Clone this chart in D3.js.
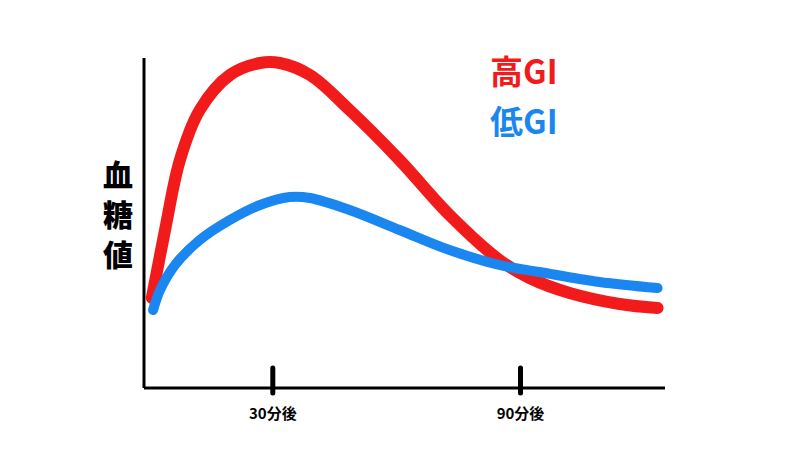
<!DOCTYPE html>
<html><head><meta charset="utf-8">
<script src="https://cdn.jsdelivr.net/npm/d3@7"></script>
<style>body{margin:0;background:#fff;}</style>
</head><body>
<script>
// time in minutes, glucose in arbitrary units
var highTimes = [0.7, 3.9, 7.5, 12.3, 19.6, 26.9, 31.7, 39, 48.6, 60.7, 72.8, 84.9, 92.2, 101.9, 114, 123.2];
var highValues = [90, 158, 228, 278, 313, 325, 325, 313, 278, 228, 173, 128, 110, 95, 84, 80];
var lowTimes = [1, 2.7, 6.3, 12.3, 19.6, 26.9, 34.1, 39, 48.6, 60.7, 72.8, 84.9, 94.6, 109.1, 123.2];
var lowValues = [78, 98, 123, 148, 168, 183, 191, 190, 178, 158, 138, 123, 116, 106, 100];
var tickValues = [30, 90];
var tickLabels = ["30分後", "90分後"];
var yLabel = ["血", "糖", "値"];
var legendNames = ["高GI", "低GI"];
var colors = ["#f21b1b", "#1a86f0"];

var width = 800, height = 450;
var svg = d3.select("body").append("svg")
    .attr("width", width).attr("height", height);

var x = d3.scaleLinear().domain([-1.2, 125]).range([144, 665]);
var y = d3.scaleLinear().domain([0, 330]).range([388, 58]);

var font = "'Noto Sans CJK JP', sans-serif";

// axes
svg.append("line").attr("x1", x(-1.2)).attr("x2", x(-1.2))
    .attr("y1", y(330)).attr("y2", y(0))
    .attr("stroke", "#000").attr("stroke-width", 3);
svg.append("line").attr("x1", x(-1.2)).attr("x2", x(125))
    .attr("y1", y(0)).attr("y2", y(0))
    .attr("stroke", "#000").attr("stroke-width", 3);

tickValues.forEach(function(t, i) {
    svg.append("line").attr("x1", x(t)).attr("x2", x(t))
        .attr("y1", y(0) - 20).attr("y2", y(0) + 5)
        .attr("stroke", "#000").attr("stroke-width", 5)
        .attr("stroke-linecap", "round");
    svg.append("text").attr("x", x(t)).attr("y", 419)
        .attr("text-anchor", "middle")
        .style("font-family", font).style("font-weight", "bold").style("font-size", "15px")
        .text(tickLabels[i]);
});

// y label stacked vertically
yLabel.forEach(function(c, i) {
    svg.append("text").attr("x", 118).attr("y", 186 + i * 40)
        .attr("text-anchor", "middle")
        .style("font-family", font).style("font-weight", "900").style("font-size", "30px")
        .text(c);
});

var line = d3.line()
    .x(function(d) { return x(d[0]); })
    .y(function(d) { return y(d[1]); })
    .curve(d3.curveCatmullRom);

svg.append("path")
    .datum(d3.zip(highTimes, highValues))
    .attr("d", line).attr("fill", "none")
    .attr("stroke", colors[0]).attr("stroke-width", 12).attr("stroke-linecap", "round");

svg.append("path")
    .datum(d3.zip(lowTimes, lowValues))
    .attr("d", line).attr("fill", "none")
    .attr("stroke", colors[1]).attr("stroke-width", 10).attr("stroke-linecap", "round");

// legend
legendNames.forEach(function(n, i) {
    svg.append("text").attr("x", 490).attr("y", 84 + i * 50)
        .attr("fill", colors[i])
        .style("font-family", font).style("font-weight", "bold").style("font-size", "33px")
        .text(n);
});
</script>
</body></html>
